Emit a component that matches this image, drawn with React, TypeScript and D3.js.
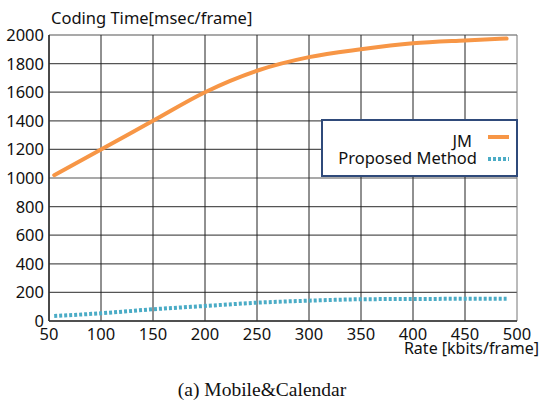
import React from "react";
import * as d3 from "d3";

const rates = [55, 100, 150, 200, 250, 300, 350, 400, 450, 490];
const jm = [1020, 1200, 1400, 1600, 1750, 1845, 1900, 1942, 1962, 1975];
const proposed = [35, 54, 82, 105, 128, 142, 152, 154, 155, 155];
const xTicks = [50, 100, 150, 200, 250, 300, 350, 400, 450, 500];
const yTicks = [0, 200, 400, 600, 800, 1000, 1200, 1400, 1600, 1800, 2000];
const seriesNames = ["JM", "Proposed Method"];

const W = 540;
const H = 407;
const font = "'Noto Sans', 'DejaVu Sans', sans-serif";

export default function App() {
  const x = d3.scaleLinear().domain([50, 500]).range([49, 517]);
  const y = d3.scaleLinear().domain([0, 2000]).range([321, 35]);
  const line = d3
    .line<number>()
    .x((_, i) => x(rates[i]))
    .curve(d3.curveMonotoneX);
  const jmPath = line.y((d) => y(d))(jm) as string;
  const propPath = line.y((d) => y(d))(proposed) as string;

  return (
    <svg
      width={W}
      height={H}
      style={{ position: "absolute", left: 0, top: 0, background: "#fff" }}
      fontFamily={font}
    >
      <rect x={0} y={0} width={W} height={H} fill="#fff" />
      {/* grid */}
      {yTicks.map((t) => (
        <line
          key={"gy" + t}
          x1={x(50)}
          x2={x(500)}
          y1={y(t)}
          y2={y(t)}
          stroke="#555"
          strokeWidth={1.2}
        />
      ))}
      {xTicks.map((t) => (
        <line
          key={"gx" + t}
          x1={x(t)}
          x2={x(t)}
          y1={y(0)}
          y2={y(2000)}
          stroke={t === 500 ? "#777" : "#222"}
          strokeWidth={1}
        />
      ))}
      <line x1={x(50)} x2={x(50)} y1={y(0)} y2={y(2000)} stroke="#333" strokeWidth={1.5} />
      <line x1={x(50)} x2={x(500)} y1={y(0)} y2={y(0)} stroke="#333" strokeWidth={1.5} />
      {/* tick labels */}
      {yTicks.map((t) => (
        <text
          key={"ly" + t}
          x={x(50) - 5}
          y={y(t) + 6}
          textAnchor="end"
          fontSize={16.5}
          fill="#111"
        >
          {t}
        </text>
      ))}
      {xTicks.map((t) => (
        <text
          key={"lx" + t}
          x={x(t)}
          y={340}
          textAnchor="middle"
          fontSize={16.5}
          fill="#111"
        >
          {t}
        </text>
      ))}
      <text x={51} y={24} fontSize={16.5} fill="#111">
        Coding Time[msec/frame]
      </text>
      <text x={539} y={354} textAnchor="end" fontSize={16} fill="#111">
        Rate [kbits/frame]
      </text>
      {/* series */}
      <path d={jmPath} fill="none" stroke="#F79646" strokeWidth={4} strokeLinecap="round" />
      <path d={propPath} fill="none" stroke="#4BACC6" strokeWidth={4} strokeDasharray="3 2" />
      {/* legend */}
      <rect x={322} y={120} width={195} height={56} fill="#fff" stroke="#2F4A7A" strokeWidth={2} />
      <text x={472} y={147} textAnchor="end" fontSize={16.5} fill="#111">
        {seriesNames[0]}
      </text>
      <text x={477} y={164} textAnchor="end" fontSize={16.5} fill="#111">
        {seriesNames[1]}
      </text>
      <line x1={488} x2={509} y1={137} y2={137} stroke="#F79646" strokeWidth={4} />
      <line x1={488} x2={509} y1={159} y2={159} stroke="#4BACC6" strokeWidth={4} strokeDasharray="3 2" />
      {/* caption */}
      <text
        x={262}
        y={396}
        textAnchor="middle"
        fontSize={19.5}
        fontFamily="'Liberation Serif', 'DejaVu Serif', serif"
        fill="#111"
      >
        (a) Mobile&amp;Calendar
      </text>
    </svg>
  );
}
